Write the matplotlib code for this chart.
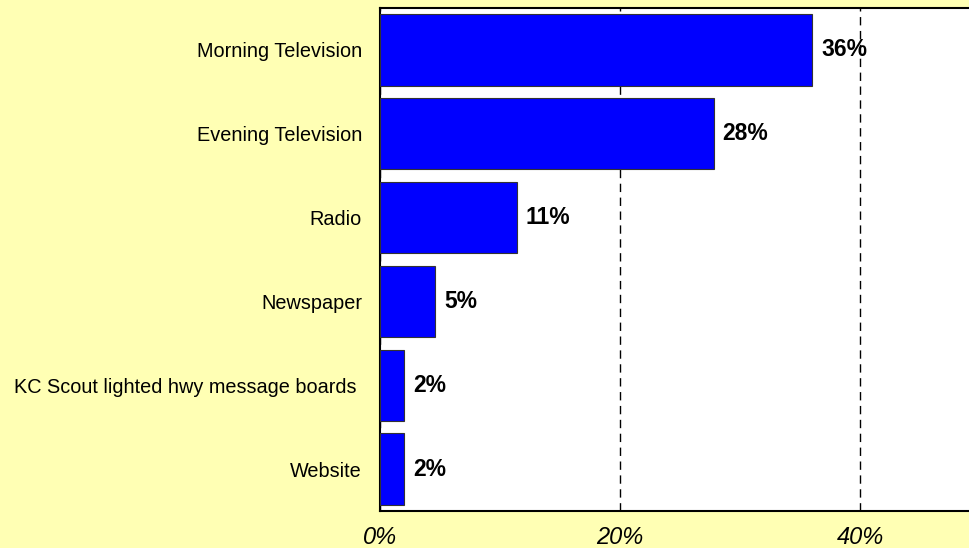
import matplotlib.pyplot as plt

# data, top to bottom
categories = ['Morning Television', 'Evening Television', 'Radio', 'Newspaper',
              'KC Scout lighted hwy message boards ', 'Website']
values = [36.0, 27.8, 11.4, 4.6, 2.0, 2.0]   # bar lengths, % (unrounded)
value_labels = ['36%', '28%', '11%', '5%', '2%', '2%']
ticks = [0, 20, 40]
tick_labels = ['0%', '20%', '40%']

plt.rcParams['font.family'] = ['Liberation Sans', 'DejaVu Sans']

fig = plt.figure(figsize=(9.69, 5.48), dpi=100)
fig.patch.set_facecolor('#FFFFB4')

# plot area runs off the right edge like the original
ax = fig.add_axes([380 / 969, 37 / 548, 600 / 969, 503 / 548])
ax.set_facecolor('white')

ypos = list(range(len(categories)))
ax.barh(ypos, values, height=0.85, color='#0000FF', edgecolor='#333333', linewidth=0.8, zorder=3)
ax.set_ylim(len(categories) - 0.5, -0.5)
ax.set_xlim(0, 50)

ax.set_yticks(ypos)
ax.set_yticklabels(categories, fontsize=14.3)
ax.set_xticks(ticks)
ax.set_xticklabels(tick_labels, fontsize=17, style='italic')
ax.tick_params(axis='both', length=0)
ax.tick_params(axis='y', pad=13)
ax.tick_params(axis='x', pad=11)

ax.grid(axis='x', linestyle=(0, (6, 4)), color='black', linewidth=1.0, zorder=1)

for s in ax.spines.values():
    s.set_color('black')
    s.set_linewidth(1.5)

for y, v, lab in zip(ypos, values, value_labels):
    ax.annotate(lab, (v, y), xytext=(6.5, 0), textcoords='offset points',
                ha='left', va='center', fontsize=16.5, fontweight='bold', zorder=4)

fig.savefig('out.png', dpi=100, facecolor=fig.get_facecolor())
